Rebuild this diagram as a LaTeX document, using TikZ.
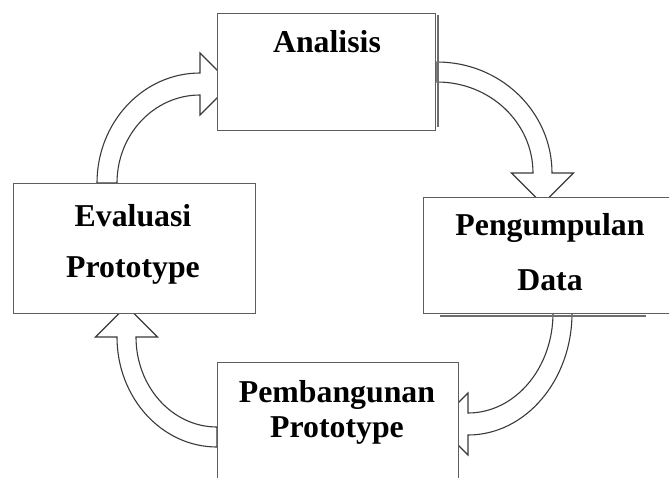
\documentclass[tikz,border=0pt]{standalone}
\usepackage{fontspec}
\setmainfont{Liberation Serif}
\definecolor{boxline}{HTML}{5E5E5E}
\definecolor{arrline}{HTML}{3A3A3A}
\definecolor{shadowc}{HTML}{6E6E6E}
\begin{document}
\begin{tikzpicture}[x=1pt,y=-1pt,
  box/.style={draw=boxline,line width=1.3pt,fill=white,rectangle,anchor=north west,inner sep=0pt},
  blockarrow/.style={draw=arrline,line width=1.1pt,fill=white,line join=miter},
  lbl/.style={anchor=base,inner sep=0pt,font=\fontsize{31.8}{36}\selectfont\bfseries},
  shadowline/.style={draw=shadowc,line width=2pt}]
\clip (0,0) rectangle (669,477);
\fill[white] (0,0) rectangle (669,477);
% block arrows
\draw[blockarrow] (97,183) arc[start angle=180,end angle=270,x radius=103,y radius=110]
  -- (200,53) -- (231,84) -- (200,115) -- (200,95)
  arc[start angle=270,end angle=180,x radius=83,y radius=88] -- cycle;
\draw[blockarrow] (437,62) arc[start angle=270,end angle=360,x radius=115,y radius=111]
  -- (573.5,173) -- (542.5,204) -- (511.5,173) -- (533,173)
  arc[start angle=0,end angle=-90,x radius=96,y radius=91] -- cycle;
\draw[blockarrow] (572,313) arc[start angle=0,end angle=90,x radius=104,y radius=122]
  -- (468,455) -- (437,424) -- (468,393) -- (468,413)
  arc[start angle=90,end angle=0,x radius=85,y radius=100] -- cycle;
\draw[blockarrow] (217,447) arc[start angle=90,end angle=180,x radius=100,y radius=110]
  -- (95.5,337) -- (126.5,306) -- (157.5,337) -- (136,337)
  arc[start angle=180,end angle=90,x radius=81,y radius=90] -- cycle;
% shadows
\draw[shadowline] (437.5,15) -- (437.5,127);
\draw[shadowline] (440,315.5) -- (646,315.5);
% boxes
\node[box,minimum width=218pt,minimum height=117pt] (ana) at (217,13) {};
\node[box,minimum width=260pt,minimum height=116pt] (pen) at (423,197) {};
\node[box,minimum width=242pt,minimum height=130pt] (eva) at (13,183) {};
\node[box,minimum width=241pt,minimum height=140pt] (pem) at (217,362) {};
% labels
\node[lbl] (tana) at (327,52) {Analisis};
\node[lbl] (tpen1) at (550,235) {Pengumpulan};
\node[lbl] (tpen2) at (550,290) {Data};
\node[lbl] (teva1) at (133,226) {Evaluasi};
\node[lbl] (teva2) at (133,277) {Prototype};
\node[lbl] (tpem1) at (337,402) {Pembangunan};
\node[lbl] (tpem2) at (337,437) {Prototype};
\end{tikzpicture}
\end{document}
